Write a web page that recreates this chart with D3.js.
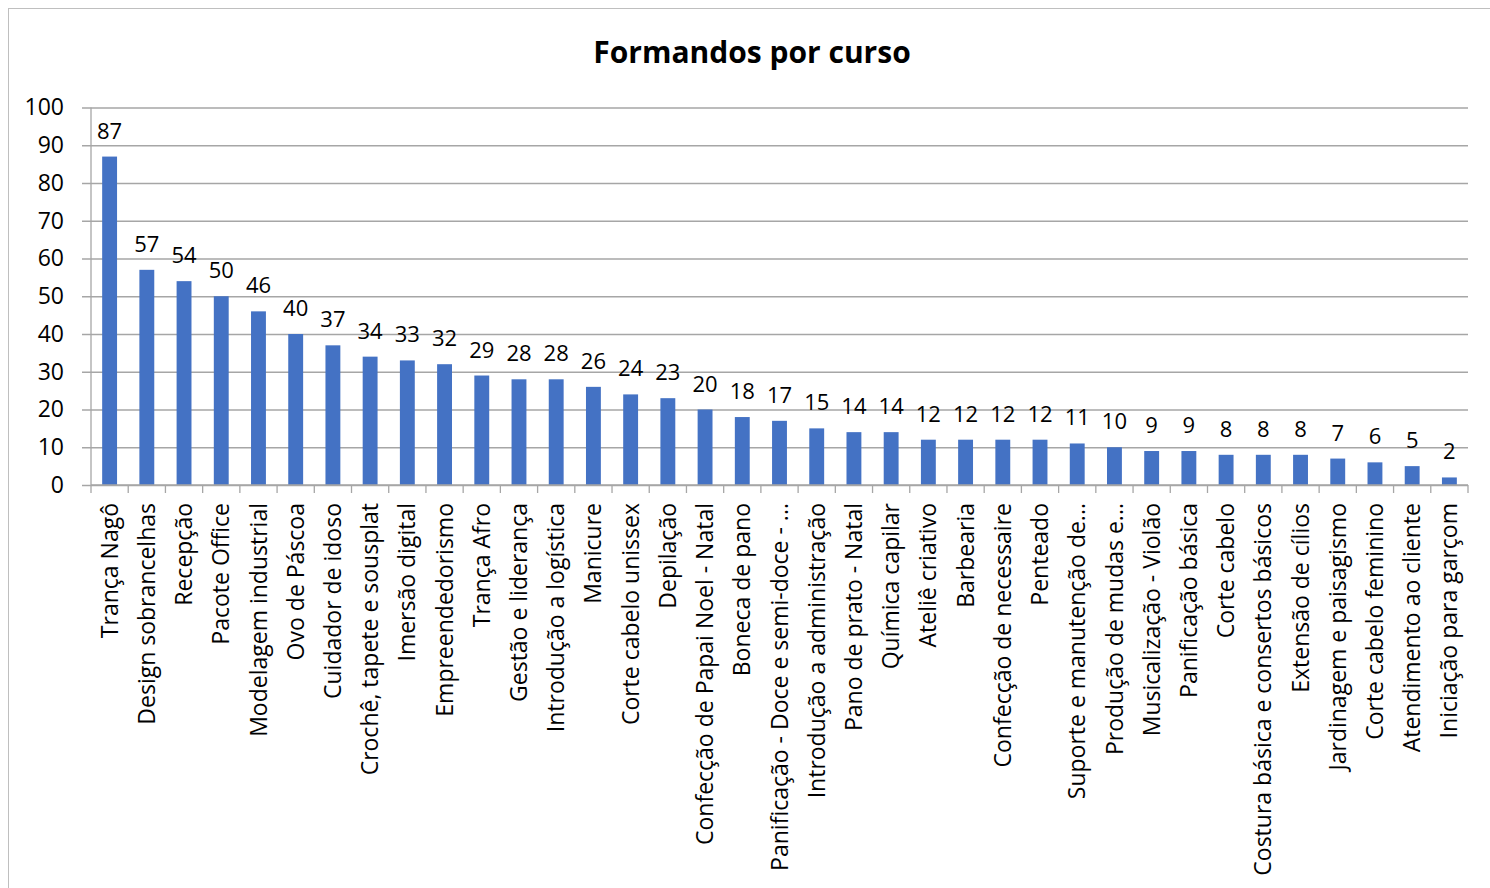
<!DOCTYPE html>
<html>
<head>
<meta charset="utf-8">
<script src="https://cdn.jsdelivr.net/npm/d3@7"></script>
<style>
  body { margin: 0; background: #fff; }
  svg { display: block; font-family: "Open Sans", sans-serif; }
</style>
</head>
<body>
<svg id="chart" width="1490" height="888"></svg>
<script>
// course names, in the order shown
var cursos = [
  'Trança Nagô', 'Design sobrancelhas', 'Recepção', 'Pacote Office',
  'Modelagem industrial', 'Ovo de Páscoa', 'Cuidador de idoso',
  'Crochê, tapete e sousplat', 'Imersão digital', 'Empreendedorismo',
  'Trança Afro', 'Gestão e liderança', 'Introdução a logística', 'Manicure',
  'Corte cabelo unissex', 'Depilação', 'Confecção de Papai Noel - Natal',
  'Boneca de pano', 'Panificação - Doce e semi-doce - ...',
  'Introdução a administração', 'Pano de prato - Natal', 'Química capilar',
  'Ateliê criativo', 'Barbearia', 'Confecção de necessaire', 'Penteado',
  'Suporte e manutenção de...', 'Produção de mudas e...',
  'Musicalização - Violão', 'Panificação básica', 'Corte cabelo',
  'Costura básica e consertos básicos', 'Extensão de cílios',
  'Jardinagem e paisagismo', 'Corte cabelo feminino',
  'Atendimento ao cliente', 'Iniciação para garçom'
];

var formandos = [
  87, 57, 54, 50, 46, 40, 37, 34, 33, 32, 29, 28, 28, 26, 24, 23, 20, 18, 17,
  15, 14, 14, 12, 12, 12, 12, 11, 10, 9, 9, 8, 8, 8, 7, 6, 5, 2
];

var yTicks = [0, 10, 20, 30, 40, 50, 60, 70, 80, 90, 100];

var titulo = 'Formandos por curso';

(function() {
  var data = cursos.map(function(c, i) { return { curso: c, valor: formandos[i] }; });

  var svg = d3.select('#chart');

  var plotLeft = 91, plotRight = 1468, plotTop = 107.5, plotBottom = 485;
  var gridColor = '#a6a6a6';

  // outer chart frame
  svg.append('rect')
    .attr('x', 8.5).attr('y', 8.5)
    .attr('width', 1495).attr('height', 895)
    .attr('fill', 'none')
    .attr('stroke', '#bfbfbf');

  svg.append('text')
    .attr('x', 752).attr('y', 63)
    .attr('text-anchor', 'middle')
    .attr('font-size', 30)
    .attr('font-weight', 'bold')
    .attr('fill', '#000')
    .text(titulo);

  var x = d3.scaleBand()
    .domain(cursos)
    .range([plotLeft, plotRight])
    .paddingInner(0.6)
    .paddingOuter(0.3);

  var y = d3.scaleLinear()
    .domain([0, 100])
    .range([plotBottom, plotTop]);

  // horizontal grid + y labels
  var yAxis = svg.append('g')
    .attr('transform', 'translate(' + plotLeft + ',0)')
    .call(d3.axisLeft(y).tickValues(yTicks).tickSize(-(plotRight - plotLeft)).tickPadding(0));

  yAxis.select('.domain').remove();
  yAxis.selectAll('.tick line')
    .attr('stroke', gridColor)
    .attr('stroke-width', 1.3)
    .attr('x1', -9);
  yAxis.selectAll('.tick text')
    .attr('x', -27)
    .attr('font-size', 23)
    .attr('font-family', '"Open Sans", sans-serif')
    .attr('fill', '#000');

  // y axis line
  svg.append('line')
    .attr('x1', plotLeft).attr('x2', plotLeft)
    .attr('y1', y(100)).attr('y2', plotBottom)
    .attr('stroke', gridColor)
    .attr('stroke-width', 1.3);

  // bars
  svg.append('g').selectAll('rect')
    .data(data)
    .join('rect')
    .attr('x', function(d) { return x(d.curso); })
    .attr('width', x.bandwidth())
    .attr('y', function(d) { return y(d.valor); })
    .attr('height', function(d) { return plotBottom - y(d.valor); })
    .attr('fill', '#4472c4');

  // value labels
  svg.append('g').selectAll('text')
    .data(data)
    .join('text')
    .attr('x', function(d) { return x(d.curso) + x.bandwidth() / 2; })
    .attr('y', function(d) { return y(d.valor) - 18; })
    .attr('text-anchor', 'middle')
    .attr('font-size', 22)
    .attr('fill', '#000')
    .text(function(d) { return d.valor; });

  // x axis line and tick marks on band boundaries
  var step = x.step();
  var boundaries = d3.range(cursos.length + 1).map(function(i) { return plotLeft + i * step; });

  svg.append('line')
    .attr('x1', plotLeft).attr('x2', plotRight)
    .attr('y1', plotBottom).attr('y2', plotBottom)
    .attr('stroke', gridColor)
    .attr('stroke-width', 1.3);

  svg.append('g').selectAll('line')
    .data(boundaries)
    .join('line')
    .attr('x1', function(d) { return d; })
    .attr('x2', function(d) { return d; })
    .attr('y1', plotBottom).attr('y2', plotBottom + 8)
    .attr('stroke', gridColor)
    .attr('stroke-width', 1.3);

  // rotated category labels
  svg.append('g').selectAll('text')
    .data(cursos)
    .join('text')
    .attr('transform', function(d) {
      return 'translate(' + (x(d) + x.bandwidth() / 2) + ',' + (plotBottom + 18) + ') rotate(-90)';
    })
    .attr('dy', '0.35em')
    .attr('text-anchor', 'end')
    .attr('font-size', 23)
    .attr('fill', '#000')
    .text(function(d) { return d; });
})();
</script>
</body>
</html>
